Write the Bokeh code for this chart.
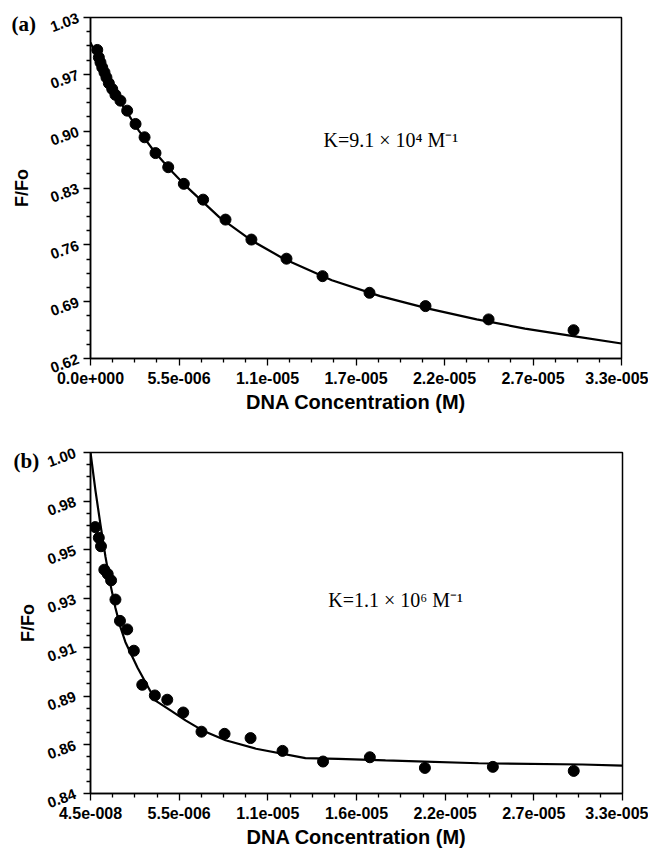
from bokeh.plotting import figure
from bokeh.models import FixedTicker, Label, Range1d, Title
from bokeh.layouts import column
from bokeh.embed import file_html
from bokeh.resources import INLINE

# ---------------- Panel (a) data ----------------
a_conc = [4.2e-7, 5.2e-7, 6.2e-7, 7.3e-7, 8.7e-7, 9.9e-7, 1.14e-6, 1.35e-6, 1.55e-6,
          1.86e-6, 2.28e-6, 2.80e-6, 3.36e-6, 4.04e-6, 4.83e-6, 5.80e-6, 7.0e-6,
          8.39e-6, 1.0e-5, 1.218e-5, 1.442e-5, 1.734e-5, 2.082e-5, 2.474e-5, 3.002e-5]
a_ratio = [0.991, 0.982, 0.976, 0.970, 0.964, 0.958, 0.951, 0.944, 0.937,
           0.930, 0.918, 0.902, 0.886, 0.867, 0.850, 0.830, 0.811,
           0.787, 0.763, 0.740, 0.719, 0.699, 0.683, 0.667, 0.654]
a_fit_conc = [0.0, 1e-6, 2e-6, 3e-6, 4e-6, 5e-6, 6e-6, 8e-6, 1e-5, 1.2e-5, 1.5e-5,
              1.8e-5, 2.1e-5, 2.4e-5, 2.7e-5, 3.0e-5, 3.3e-5]
a_fit_ratio = [1.0, 0.957, 0.924, 0.894, 0.868, 0.846, 0.826, 0.790, 0.762, 0.740,
               0.714, 0.695, 0.680, 0.667, 0.656, 0.647, 0.638]
a_xticks = [0.0, 5.5e-6, 1.1e-5, 1.65e-5, 2.2e-5, 2.75e-5, 3.3e-5]
a_xlabels = ["0.0e+000", "5.5e-006", "1.1e-005", "1.7e-005", "2.2e-005", "2.7e-005", "3.3e-005"]
a_yticks = [0.62, 0.68833, 0.75667, 0.825, 0.89333, 0.96167, 1.03]
a_ylabels = ["0.62", "0.69", "0.76", "0.83", "0.90", "0.97", "1.03"]
a_text = "K=9.1 × 10⁴ M⁻¹"

# ---------------- Panel (b) data ----------------
b_conc = [3.36e-7, 5.59e-7, 6.95e-7, 9.0e-7, 1.11e-6, 1.32e-6, 1.59e-6, 1.87e-6, 2.32e-6,
          2.73e-6, 3.25e-6, 4.03e-6, 4.80e-6, 5.79e-6, 6.92e-6, 8.35e-6, 9.96e-6,
          1.194e-5, 1.445e-5, 1.735e-5, 2.076e-5, 2.497e-5, 2.998e-5]
b_ratio = [0.965, 0.960, 0.956, 0.945, 0.943, 0.940, 0.931, 0.921, 0.917,
           0.907, 0.891, 0.886, 0.884, 0.878, 0.869, 0.868, 0.866,
           0.860, 0.855, 0.857, 0.852, 0.8525, 0.8506]
b_fit_conc = [4.5e-8, 3.55e-7, 6.65e-7, 9.74e-7, 1.28e-6, 1.59e-6, 1.9e-6, 2.21e-6,
              2.96e-6, 4.07e-6, 5.0e-6, 5.93e-6, 6.98e-6, 8.41e-6, 1.03e-5, 1.336e-5,
              1.54e-5, 1.832e-5, 2.408e-5, 3.052e-5, 3.3e-5]
b_fit_ratio = [1.0, 0.982, 0.966, 0.951, 0.938, 0.927, 0.918, 0.911,
               0.899, 0.8836, 0.879, 0.8743, 0.8696, 0.865, 0.861, 0.8566,
               0.8562, 0.8555, 0.8542, 0.8536, 0.8531]
b_xticks = [4.5e-8, 5.5375e-6, 1.103e-5, 1.65225e-5, 2.2015e-5, 2.75075e-5, 3.3e-5]
b_xlabels = ["4.5e-008", "5.5e-006", "1.1e-005", "1.6e-005", "2.2e-005", "2.7e-005", "3.3e-005"]
b_yticks = [0.84, 0.862857, 0.885714, 0.908571, 0.931429, 0.954286, 0.977143, 1.0]
b_ylabels = ["0.84", "0.86", "0.89", "0.91", "0.93", "0.95", "0.98", "1.00"]
b_text = "K=1.1 × 10⁶ M⁻¹"

SANS = "Liberation Sans"
SERIF = "Liberation Serif"


def minor_between(ticks, n=4):
    out = []
    for t0, t1 in zip(ticks[:-1], ticks[1:]):
        step = (t1 - t0) / n
        out += [t0 + step * k for k in range(1, n)]
    return out


def panel(conc, ratio, fconc, fratio, xt, xl, yt, yl, text, tag,
          text_xy, height, border_top, border_left, fwidth, tag_offset, tag_standoff,
          ylab_standoff, ytitle_standoff):
    p = figure(width=648, height=height, output_backend="svg", toolbar_location=None,
               x_range=Range1d(xt[0], xt[-1]), y_range=Range1d(yt[0], yt[-1]),
               min_border_left=border_left, min_border_right=648 - border_left - fwidth,
               min_border_top=border_top,
               min_border_bottom=height - border_top - 341)
    p.frame_height = 341
    p.frame_width = fwidth
    p.grid.visible = False
    p.outline_line_color = "black"
    p.outline_line_width = 1.5
    p.background_fill_color = "white"
    p.border_fill_color = "white"

    p.line(fconc, fratio, line_color="black", line_width=2.2)
    p.scatter(conc, ratio, size=11, fill_color="black", line_color="black")

    for ax in (p.xaxis[0], p.yaxis[0]):
        ax.axis_line_width = 1.5
        ax.axis_line_color = "black"
        ax.major_tick_in = 0
        ax.major_tick_out = 7
        ax.minor_tick_in = 0
        ax.minor_tick_out = 4
        ax.major_tick_line_width = 1.3
        ax.minor_tick_line_width = 1.3
        ax.major_label_text_font = SANS
        ax.major_label_text_font_style = "bold"
        ax.major_label_text_color = "black"
        ax.axis_label_text_font = SANS
        ax.axis_label_text_font_style = "bold"
        ax.axis_label_text_color = "black"

    p.xaxis[0].ticker = FixedTicker(ticks=xt, minor_ticks=minor_between(xt))
    p.xaxis[0].major_label_overrides = {t: l for t, l in zip(xt, xl)}
    p.xaxis[0].axis_label = "DNA Concentration (M)"
    p.xaxis[0].major_label_text_font_size = "16px"
    p.xaxis[0].axis_label_text_font_size = "20px"
    p.xaxis[0].major_label_standoff = 6
    p.xaxis[0].axis_label_standoff = 4

    p.yaxis[0].ticker = FixedTicker(ticks=yt, minor_ticks=minor_between(yt))
    p.yaxis[0].major_label_overrides = {t: l for t, l in zip(yt, yl)}
    p.yaxis[0].axis_label = "F/Fo"
    p.yaxis[0].major_label_text_font_size = "15px"
    p.yaxis[0].axis_label_text_font_size = "18px"
    p.yaxis[0].major_label_orientation = 0.35
    p.yaxis[0].major_label_standoff = ylab_standoff
    p.yaxis[0].axis_label_standoff = ytitle_standoff

    p.add_layout(Label(x=text_xy[0], y=text_xy[1], text=text, text_font=SERIF,
                       text_font_size="20px", text_color="black",
                       text_baseline="alphabetic"))
    p.add_layout(Title(text=tag, align="left", offset=tag_offset, standoff=tag_standoff,
                       text_font=SERIF, text_font_style="bold",
                       text_font_size="21px", text_color="black"), "above")
    return p


pa = panel(a_conc, a_ratio, a_fit_conc, a_fit_ratio, a_xticks, a_xlabels,
           a_yticks, a_ylabels, a_text, "(a)",
           (1.448e-5, 0.8833), 430, 17, 90, 531, -79, -36, 5, 13)
pb = panel(b_conc, b_ratio, b_fit_conc, b_fit_ratio, b_xticks, b_xlabels,
           b_yticks, b_ylabels, b_text, "(b)",
           (1.477e-5, 0.9309), 420, 22, 85, 532, -77, -40, 8, 4)

layout = column(pa, pb, spacing=0)
open("out.html", "w").write(file_html(layout, INLINE))
